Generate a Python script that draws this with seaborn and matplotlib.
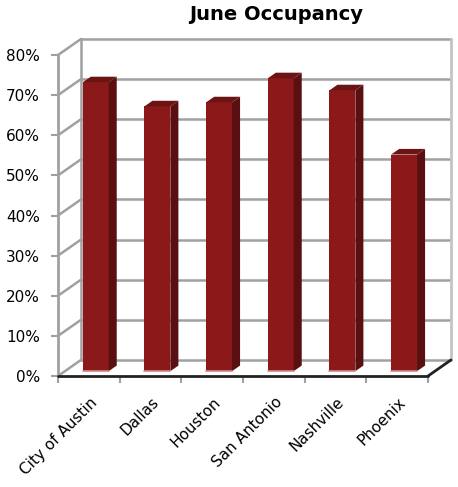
import matplotlib
matplotlib.use("Agg")
import matplotlib.pyplot as plt
import seaborn as sns
from matplotlib.patches import Polygon
from matplotlib.transforms import offset_copy

# datos
cities = ["City of Austin", "Dallas", "Houston", "San Antonio", "Nashville", "Phoenix"]
occupancy = [72, 66, 67, 73, 70, 54]
y_ticks = [0, 10, 20, 30, 40, 50, 60, 70, 80]
y_tick_labels = ["0%", "10%", "20%", "30%", "40%", "50%", "60%", "70%", "80%"]

# colores
front_col = "#8c1919"
side_col = "#5a1010"
top_col = "#6c1414"
grid_col = "#a0a0a0"

# profundidad del efecto 3D (unidades de datos)
DX, DY = 0.373, 4.0

sns.set_style("white")
plt.rcParams["text.color"] = "black"
fig = plt.figure(figsize=(4.58, 4.87), dpi=100)
ax = fig.add_axes([0.1266, 0.2279, 0.8079, 0.6591])

sns.barplot(x=cities, y=occupancy, color=front_col, saturation=1, width=0.42,
            linewidth=0, ax=ax, zorder=3)

n = len(cities)
x0, x1 = -0.5, n - 0.5
ax.set_xlim(x0, x1)
ax.set_ylim(0, 80)
for s in ax.spines.values():
    s.set_visible(False)

# pared del fondo y pared izquierda
for v in y_ticks:
    ax.plot([x0 + DX, x1 + DX], [v + DY, v + DY], color=grid_col, lw=1.8, clip_on=False, zorder=1)
    ax.plot([x0, x0 + DX], [v, v + DY], color=grid_col, lw=1.8, clip_on=False, zorder=1)
ax.plot([x0 + DX, x0 + DX], [DY, 80 + DY], color=grid_col, lw=1.8, clip_on=False, zorder=1)
ax.plot([x1 + DX, x1 + DX], [DY, 80 + DY], color="#c4c4c4", lw=2, clip_on=False, zorder=1)
ax.plot([x0, x0], [0, 80], color=grid_col, lw=2, clip_on=False, zorder=2)

# suelo
ax.plot([x0, x1], [0, 0], color="#222222", lw=2, clip_on=False, zorder=5)
ax.plot([x1, x1 + DX], [0, DY], color="#222222", lw=2, clip_on=False, zorder=5)

# ejes
ax.set_yticks(y_ticks, y_tick_labels)
ax.tick_params(axis="y", left=True, length=5, width=1.5, color=grid_col, pad=8,
               labelsize=11, labelcolor="black")
ax.set_xticks(range(n))
ax.set_xticklabels([])
ax.tick_params(axis="x", length=0)
ax.set_xticks([i - 0.5 for i in range(n + 1)], minor=True)
ax.tick_params(axis="x", which="minor", bottom=True, length=5, width=1.5, color=grid_col)
ax.set_xlabel("")
ax.set_ylabel("")

# caras laterales y superiores de las barras
off_x, off_y = 0.3 * DX, 0.3 * DY
sx, sy = 0.35 * DX, 0.35 * DY
for p, v in zip(list(ax.patches), occupancy):
    p.set_x(p.get_x() + off_x)
    p.set_y(off_y)
    bx, bw = p.get_x(), p.get_width()
    top = off_y + v
    ax.add_patch(Polygon([(bx + bw, off_y), (bx + bw + sx, off_y + sy), (bx + bw + sx, top + sy), (bx + bw, top)],
                         closed=True, fc=side_col, ec="none", zorder=3))
    ax.add_patch(Polygon([(bx, top), (bx + sx, top + sy), (bx + bw + sx, top + sy), (bx + bw, top)],
                         closed=True, fc=top_col, ec="none", zorder=3))
    ax.plot([bx, bx + bw], [off_y, off_y], color="#d08888", lw=1.2, zorder=4)

# etiquetas de categorias
lbl_tr = offset_copy(ax.transData, fig=fig, x=6, y=-24, units="dots")
for i, name in enumerate(cities):
    ax.text(i, 0, name, rotation=45, ha="right", va="center", rotation_mode="anchor",
            fontsize=11, color="black", transform=lbl_tr, clip_on=False)

fig.text(276 / 458, 1 - 15 / 487, "June Occupancy", ha="center", va="center",
         fontsize=14, fontweight="bold", color="black")

fig.savefig("out.png", dpi=100)
